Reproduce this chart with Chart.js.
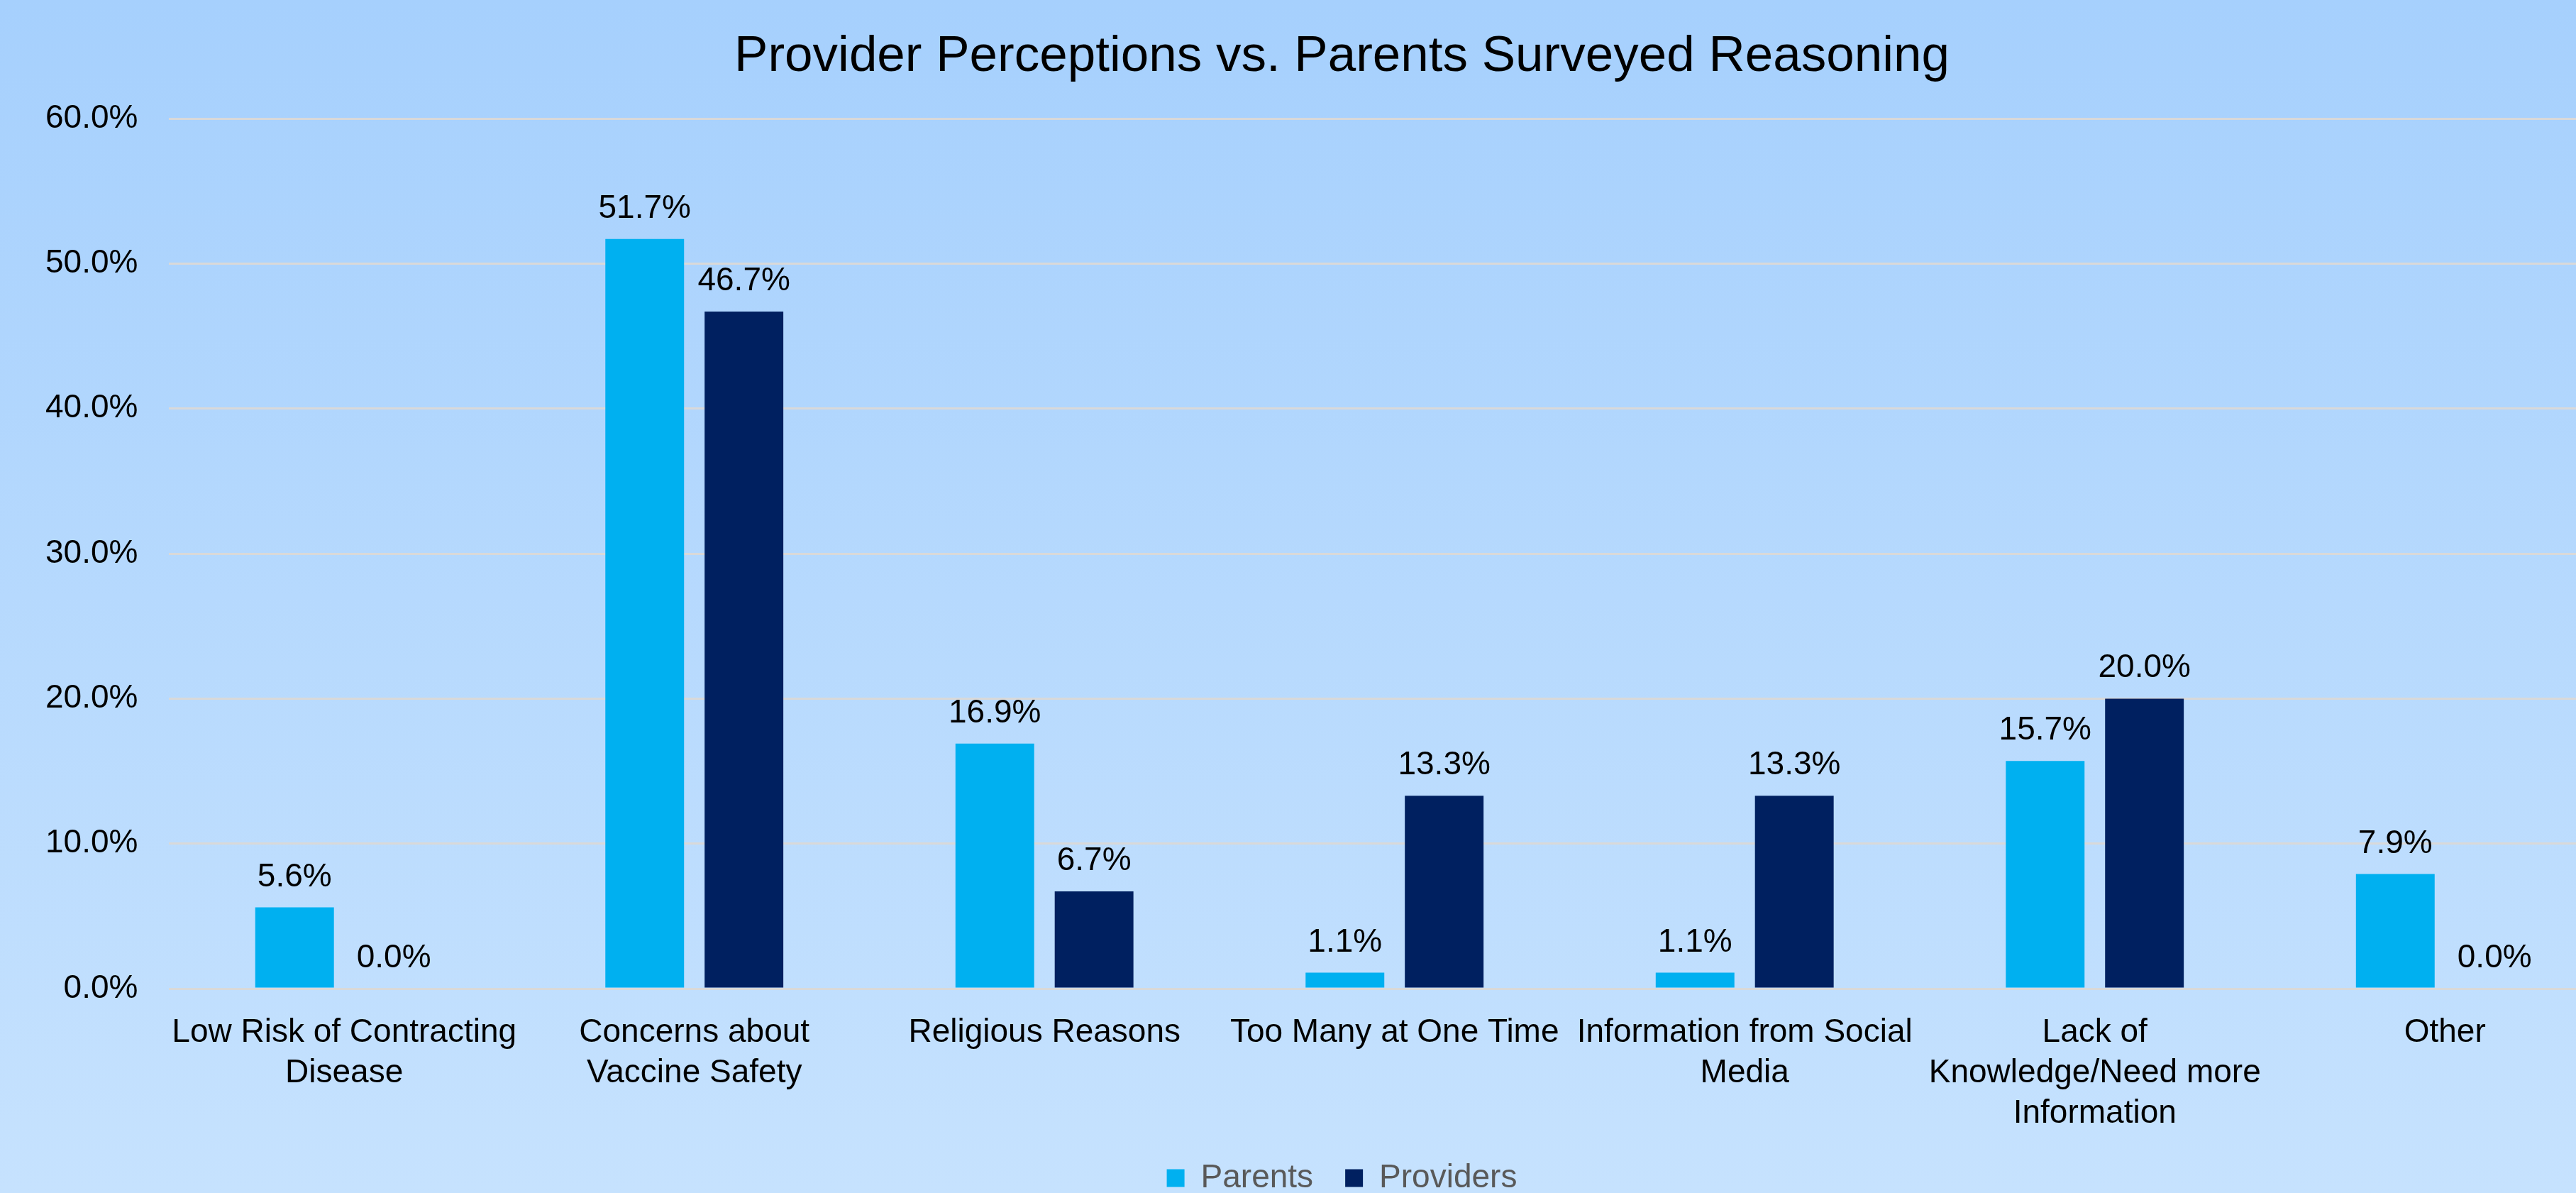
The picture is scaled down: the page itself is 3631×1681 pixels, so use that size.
<!DOCTYPE html>
<html>
<head>
<meta charset="utf-8">
<title>Provider Perceptions vs. Parents Surveyed Reasoning</title>
<script src="https://cdn.jsdelivr.net/npm/chart.js@4.4.1/dist/chart.umd.min.js"></script>
<style>
    html, body {
        margin: 0;
        padding: 0;
        overflow: hidden;
        width: 3631px;
        height: 1681px;
        background: linear-gradient(to bottom, #a6d0fd 0%, #c6e2fe 100%);
    }
    #chart-box {
        width: 3782px;
        height: 1681px;
    }
</style>
</head>
<body>
<div id="chart-box">
    <canvas id="reasoning-chart" width="3782" height="1681"></canvas>
</div>
<script>
const categories = [
    ['Low Risk of Contracting', 'Disease'],
    ['Concerns about', 'Vaccine Safety'],
    'Religious Reasons',
    'Too Many at One Time',
    ['Information from Social', 'Media'],
    ['Lack of', 'Knowledge/Need more', 'Information'],
    'Other'
];
const parents = [5.6, 51.7, 16.9, 1.1, 1.1, 15.7, 7.9];
const providers = [0.0, 46.7, 6.7, 13.3, 13.3, 20.0, 0.0];
const yTicks = [0, 10, 20, 30, 40, 50, 60];

class ReasoningChartHelper {
    constructor() {
        this.execute()
    }

    execute() {
        let $canvas = document.getElementById('reasoning-chart');
        let $font = "'Liberation Sans', Arial, sans-serif";

        // labels over the bars, like excel data labels
        const valueLabels = {
            id: 'valueLabels',
            afterDatasetsDraw(chart) {
                let ctx = chart.ctx;
                ctx.save();
                ctx.font = '46px ' + $font;
                ctx.fillStyle = '#000000';
                ctx.textAlign = 'center';
                ctx.textBaseline = 'alphabetic';
                chart.data.datasets.forEach(function($dataset, $i) {
                    chart.getDatasetMeta($i).data.forEach(function($bar, $j) {
                        ctx.fillText($dataset.data[$j].toFixed(1) + '%', $bar.x, $bar.y - 30);
                    });
                });
                ctx.restore();
            }
        };

        // excel centres title and legend on the whole chart area, not on the part left of the axis
        const centreBlocks = {
            id: 'centreBlocks',
            afterLayout(chart) {
                chart.titleBlock.left += 70;
                chart.legend.left += 70;
            }
        };

        new Chart($canvas, {
            type: 'bar',
            data: {
                labels: categories,
                datasets: [
                    {
                        label: 'Parents',
                        data: parents,
                        backgroundColor: '#00b0f0',
                        categoryPercentage: 0.567,
                        barPercentage: 0.793
                    },
                    {
                        label: 'Providers',
                        data: providers,
                        backgroundColor: '#002060',
                        categoryPercentage: 0.567,
                        barPercentage: 0.793
                    }
                ]
            },
            options: {
                responsive: false,
                animation: false,
                layout: {
                    padding: {left: 20, right: 89, top: 0, bottom: -12}
                },
                scales: {
                    x: {
                        grid: {display: false, drawTicks: false},
                        border: {display: false},
                        afterFit: function($axis) {
                            $axis.height = 199;
                        },
                        ticks: {
                            padding: 34,
                            color: '#000000',
                            maxRotation: 0,
                            autoSkip: false,
                            font: {family: $font, size: 46, lineHeight: 1.24}
                        }
                    },
                    y: {
                        min: 0,
                        max: 60,
                        afterBuildTicks: function($axis) {
                            $axis.ticks = yTicks.map(function($v) { return {value: $v}; });
                        },
                        grid: {
                            color: '#d9d9d9',
                            lineWidth: 3,
                            drawTicks: false
                        },
                        border: {display: false},
                        ticks: {
                            padding: 44,
                            color: '#000000',
                            font: {family: $font, size: 46},
                            callback: function($value) {
                                return $value.toFixed(1) + '%';
                            }
                        }
                    }
                },
                plugins: {
                    title: {
                        display: true,
                        text: 'Provider Perceptions vs. Parents Surveyed Reasoning',
                        color: '#000000',
                        font: {family: $font, size: 71, weight: 'normal', lineHeight: 1.2},
                        padding: {top: 38, bottom: 44}
                    },
                    legend: {
                        position: 'bottom',
                        labels: {
                            color: '#595959',
                            boxWidth: 25,
                            boxHeight: 25,
                            padding: 45,
                            font: {family: $font, size: 46}
                        }
                    },
                    tooltip: {enabled: false}
                }
            },
            plugins: [valueLabels, centreBlocks]
        });
    }
}

new ReasoningChartHelper();
</script>
</body>
</html>
